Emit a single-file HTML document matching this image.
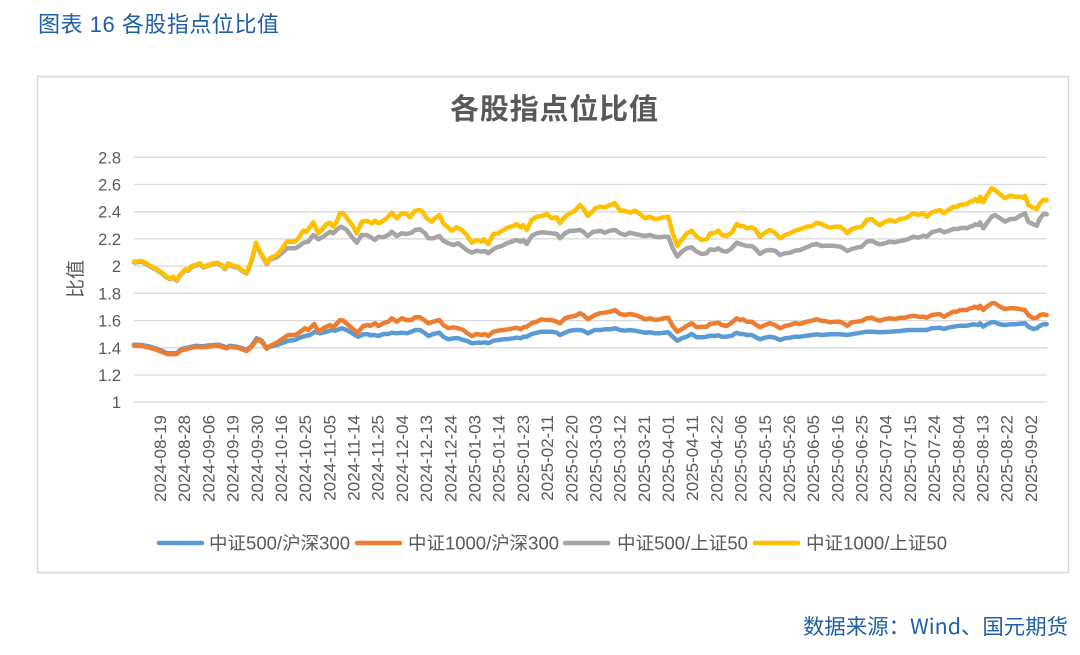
<!DOCTYPE html>
<html>
<head>
<meta charset="utf-8">
<style>
html,body{margin:0;padding:0;background:#fff;}
body{width:1080px;height:655px;overflow:hidden;}
svg{display:block;font-family:"Liberation Sans","Noto Sans CJK SC",sans-serif;}
</style>
</head>
<body>
<svg width="1080" height="655" viewBox="0 0 1080 655" xmlns="http://www.w3.org/2000/svg">
<rect x="0" y="0" width="1080" height="655" fill="#fff"/>
<text x="38" y="32" font-size="22" fill="#1f5fa6" textLength="241" lengthAdjust="spacing">图表 16 各股指点位比值</text>
<rect x="37.5" y="76.5" width="1031" height="496" fill="#fff" stroke="#d9d9d9" stroke-width="1.5"/>
<text x="450" y="119" font-size="29" font-weight="bold" fill="#595959" textLength="208" lengthAdjust="spacing">各股指点位比值</text>

<g stroke="#d9d9d9" stroke-width="1.3">
<line x1="134" y1="157.3" x2="1047" y2="157.3"/>
<line x1="134" y1="184.5" x2="1047" y2="184.5"/>
<line x1="134" y1="211.7" x2="1047" y2="211.7"/>
<line x1="134" y1="238.9" x2="1047" y2="238.9"/>
<line x1="134" y1="266.1" x2="1047" y2="266.1"/>
<line x1="134" y1="293.3" x2="1047" y2="293.3"/>
<line x1="134" y1="320.6" x2="1047" y2="320.6"/>
<line x1="134" y1="347.8" x2="1047" y2="347.8"/>
<line x1="134" y1="375.0" x2="1047" y2="375.0"/>
<line x1="134" y1="402.2" x2="1047" y2="402.2"/>
</g>

<g font-size="16.5" fill="#595959" text-anchor="end">
<text x="121" y="163.3">2.8</text>
<text x="121" y="190.5">2.6</text>
<text x="121" y="217.7">2.4</text>
<text x="121" y="244.9">2.2</text>
<text x="121" y="272.1">2</text>
<text x="121" y="299.3">1.8</text>
<text x="121" y="326.6">1.6</text>
<text x="121" y="353.8">1.4</text>
<text x="121" y="381.0">1.2</text>
<text x="121" y="408.2">1</text>
</g>
<text transform="translate(82,279) rotate(-90)" font-size="19" fill="#595959" text-anchor="middle">比值</text>

<g font-size="17" fill="#595959" text-anchor="end">
<text transform="translate(160.0,415) rotate(-90)" dy="0.35em">2024-08-19</text>
<text transform="translate(184.2,415) rotate(-90)" dy="0.35em">2024-08-28</text>
<text transform="translate(208.4,415) rotate(-90)" dy="0.35em">2024-09-06</text>
<text transform="translate(232.6,415) rotate(-90)" dy="0.35em">2024-09-19</text>
<text transform="translate(256.8,415) rotate(-90)" dy="0.35em">2024-09-30</text>
<text transform="translate(281.0,415) rotate(-90)" dy="0.35em">2024-10-16</text>
<text transform="translate(305.1,415) rotate(-90)" dy="0.35em">2024-10-25</text>
<text transform="translate(329.3,415) rotate(-90)" dy="0.35em">2024-11-05</text>
<text transform="translate(353.5,415) rotate(-90)" dy="0.35em">2024-11-14</text>
<text transform="translate(377.7,415) rotate(-90)" dy="0.35em">2024-11-25</text>
<text transform="translate(401.9,415) rotate(-90)" dy="0.35em">2024-12-04</text>
<text transform="translate(426.1,415) rotate(-90)" dy="0.35em">2024-12-13</text>
<text transform="translate(450.3,415) rotate(-90)" dy="0.35em">2024-12-24</text>
<text transform="translate(474.5,415) rotate(-90)" dy="0.35em">2025-01-03</text>
<text transform="translate(498.7,415) rotate(-90)" dy="0.35em">2025-01-14</text>
<text transform="translate(522.9,415) rotate(-90)" dy="0.35em">2025-01-23</text>
<text transform="translate(547.1,415) rotate(-90)" dy="0.35em">2025-02-11</text>
<text transform="translate(571.3,415) rotate(-90)" dy="0.35em">2025-02-20</text>
<text transform="translate(595.4,415) rotate(-90)" dy="0.35em">2025-03-03</text>
<text transform="translate(619.6,415) rotate(-90)" dy="0.35em">2025-03-12</text>
<text transform="translate(643.8,415) rotate(-90)" dy="0.35em">2025-03-21</text>
<text transform="translate(668.0,415) rotate(-90)" dy="0.35em">2025-04-01</text>
<text transform="translate(692.2,415) rotate(-90)" dy="0.35em">2025-04-11</text>
<text transform="translate(716.4,415) rotate(-90)" dy="0.35em">2025-04-22</text>
<text transform="translate(740.6,415) rotate(-90)" dy="0.35em">2025-05-06</text>
<text transform="translate(764.8,415) rotate(-90)" dy="0.35em">2025-05-15</text>
<text transform="translate(789.0,415) rotate(-90)" dy="0.35em">2025-05-26</text>
<text transform="translate(813.2,415) rotate(-90)" dy="0.35em">2025-06-05</text>
<text transform="translate(837.4,415) rotate(-90)" dy="0.35em">2025-06-16</text>
<text transform="translate(861.6,415) rotate(-90)" dy="0.35em">2025-06-25</text>
<text transform="translate(885.7,415) rotate(-90)" dy="0.35em">2025-07-04</text>
<text transform="translate(909.9,415) rotate(-90)" dy="0.35em">2025-07-15</text>
<text transform="translate(934.1,415) rotate(-90)" dy="0.35em">2025-07-24</text>
<text transform="translate(958.3,415) rotate(-90)" dy="0.35em">2025-08-04</text>
<text transform="translate(982.5,415) rotate(-90)" dy="0.35em">2025-08-13</text>
<text transform="translate(1006.7,415) rotate(-90)" dy="0.35em">2025-08-22</text>
<text transform="translate(1030.9,415) rotate(-90)" dy="0.35em">2025-09-02</text>
</g>

<g fill="none" stroke-width="4.5" stroke-linejoin="round" stroke-linecap="round">
<polyline stroke="#5b9bd5" points="134,344.7 141.7,345 148.3,346.3 155,348.3 161.7,350.7 166.7,353 173.3,353.3 176.7,353 181.7,349 186.7,348 191.7,346.7 196.7,345.7 201.7,346.3 206.7,345.7 213.3,345 218.3,344.7 223.3,346.3 226.7,347.3 230,345.7 236.7,346.7 241.7,348 246.7,350 251.7,345.7 256.7,338.3 261.7,340.7 266.7,347.7 270,346.7 276.7,345 283.3,342.7 288.3,340.7 295,340 298.3,338.3 305,336 310,335 315,331.7 320,333.3 326.7,331.7 331.7,330 335,330.7 341.7,328.3 345,329.3 350,331.7 355,335 358.3,336.7 363.3,334.3 368.3,334.3 370,335.3 375,335 378.3,336 383.3,334 388.3,334 391.7,332.7 396.7,333.3 401.7,332.7 406.7,333.3 411.7,331.7 415,330 420,330 425,333.3 428.3,336 433.3,334 439.3,332.7 443.3,336.7 448.3,339.3 453.3,338.3 458.3,338.3 463.3,340 466.7,340.7 471.7,343.3 476.7,342.7 481.7,342.7 485,342.3 488.3,343.3 493.3,340.7 498.3,340 503.3,339.3 508.3,339 513.3,338.3 516.7,337.7 520.7,338.3 523.3,336.7 526.7,336.7 531.7,334 536.7,332.7 541.7,331.7 546.7,331.7 551.7,331.7 556.7,332.7 560,335 565,332.7 570,330.7 575,330 580,330 583.3,330.7 587.7,333.3 593.3,330.7 595,330 600,330 605,329.3 610,329.3 615,328.3 620,330 625,330.7 630,330 635,330.7 640,331.7 645,332.7 650,332.3 655,333.3 660,333.3 663.3,332.7 668.3,332.3 672.7,336.7 677.3,340.7 681.7,338.3 686.7,336.7 691.7,334 696.7,337.3 701.7,337.3 706.7,336.7 710,335.7 715,336 718.3,335.3 721.7,336.7 726.7,336.7 731.7,335.7 736.7,332.7 740,334 743.3,334 746.7,335 751.7,335 755,336.7 760,339.3 765,337.7 770,336.7 775,337.7 780,340 785,338.3 790,337.7 795,336.7 800,336.7 806.7,335.7 811.7,335 816.7,334.3 821.7,335 830,334.3 840,334.3 847.3,335 856.7,333.3 866.7,331.7 871.7,331.7 880,332.3 890,331.7 900,331 908.3,330 918.3,330 926.7,330 931.7,328.3 940,327.7 944,329 948.3,327.7 953.3,326.7 960,325.7 966.7,325.7 973.3,324.3 978.3,325 980,323.3 983.3,326.7 986.7,324.3 991.7,322.3 995,322.3 1000,324.3 1005,325 1010,324.3 1015,324.3 1020,323.7 1025,323.3 1028.3,326.7 1033.3,329 1036.7,328.3 1040,325.7 1043.3,324.3 1046.7,324.3"/>
<polyline stroke="#ed7d31" points="134,345.7 141.7,346 148.3,347.3 155,349.3 161.7,351.7 166.7,354 173.3,354.3 176.7,354 181.7,350 186.7,349 191.7,347.7 196.7,346.7 201.7,347.3 206.7,346.7 213.3,346 218.3,345.7 223.3,347.3 226.7,348.3 230,346.7 236.7,347.7 241.7,349 246.7,351 251.7,346.7 256.7,339.3 261.7,341.7 266.7,348.7 270,346 276.7,342.7 283.3,338.3 288.3,335 295,335 298.3,333.3 305,328.3 308.3,330 314.3,324 318.3,331.7 323.3,328.3 330,325 333.3,327.3 340,320 343.3,320.7 348.3,325 353.3,329.3 357.7,332.7 363.3,326 368.3,325 370,326 375,323.3 378.3,326 383.3,323.3 388.3,321.7 391.7,318.3 396.7,321.7 401.7,318.3 406.7,320 411.7,320 415,317.3 420,317.3 425,320.7 428.3,323.3 433.3,321.7 439.3,320 443.3,325 448.3,328.3 453.3,327.3 458.3,328.3 463.3,330 466.7,332.7 471.7,336 476.7,334 481.7,335 485,334 488.3,336 493.3,331.7 498.3,330.7 503.3,330 508.3,329.3 513.3,328.3 516.7,327.7 520.7,329.3 523.3,327.3 526.7,326.7 531.7,323.3 536.7,321.7 541.7,319.3 546.7,320 551.7,320 556.7,321.7 560,323.3 565,318.3 570,316.7 575,316 580,313.3 583.3,315 587.7,319.3 593.3,316 595,315 600,313.3 605,312.7 610,311.7 615,310 620,314 625,315 630,314 635,315 640,316.7 645,319.3 650,318.3 655,320 660,319.3 663.3,318.3 668.3,317.7 672.7,326 677.3,331.7 681.7,329.3 686.7,326 691.7,323.3 696.7,327.3 701.7,326.7 706.7,326.7 710,324 715,323.3 718.3,322.7 721.7,325 726.7,326 731.7,322.7 736.7,318.3 740,320 743.3,319.3 746.7,321.7 751.7,321.7 755,324 760,327.3 765,325 770,323.3 775,325 780,328.3 785,326 790,325 795,323.3 800,324 806.7,321.7 811.7,320.7 816.7,319.3 821.7,320.7 825,321 830,322.3 835,321.7 840,321.7 843.3,323.3 847.3,325.7 851.7,322.3 856.7,321.7 861.7,321 866.7,318.3 871.7,317.7 876.7,320 880,320.7 885,319 890,318.3 895,319 900,317.7 905,317.7 908.3,316.7 913.3,315.7 918.3,316.7 923.3,316.7 926.7,317.7 931.7,315 936.7,314.3 940,314.3 944,316.7 948.3,314.3 953.3,311.7 956.7,311.7 960,310 963.3,310 966.7,310 970,308.3 973.3,307.7 975,306.7 978.3,308.3 980,305.7 983.3,310 986.7,306.7 991.7,303.3 995,303.3 1000,306.7 1005,309 1010,308.3 1015,308.3 1020,309 1023.3,310 1025,310 1028.3,315 1033.3,318.3 1036.7,317.7 1040,315 1043.3,314.3 1046.7,315"/>
<polyline stroke="#a5a5a5" points="134,262.5 141.7,261.8 146.7,264.1 151.7,267.5 156.7,269.8 161.7,273.5 166.7,277.5 170,279.1 173.3,277.5 176.7,280.8 180,275.8 185,270.1 188.3,270.8 191.7,266.8 195,265.8 200,264.1 203.3,267.5 208.3,265.8 213.3,264.1 217.3,263.5 221.7,265.8 225,269.1 228.3,264.1 233.3,266.8 238.3,267.5 241.7,270.8 246.7,273.5 251.7,260.8 256,243.5 260,252.5 266.7,264.1 270,259.3 276.7,257.3 281.7,253.3 286.7,248.3 295,248.3 298.3,246.7 303.3,242.7 308.3,241.7 313.3,235 318.3,239.3 323.3,236.7 330,231.7 333.3,233.3 338.3,228.3 341.7,226.7 346.7,230 351.7,236.7 356.7,242.7 361.7,235 366.7,235 370,236.7 375,240 378.3,236.7 383.3,237.3 388.3,235 391.7,231.7 396.7,236 401.7,233.3 406.7,234 411.7,232.7 415,230 420,229.3 425,233.3 428.3,238.3 433.3,238.3 439.3,236 443.3,240.7 448.3,243.3 453.3,245 458.3,243.3 463.3,247.3 466.7,250 471.7,252.7 476.7,250.7 481.7,251.7 485,251 488.3,253.3 493.3,249.3 496.7,247.3 501.7,246 506.7,243.3 511.7,241.7 516.7,240 520.7,241.7 523.3,240 526.7,244 531.7,236 536.7,233.3 541.7,232.3 546.7,232.7 551.7,233.3 556.7,234 560,238.3 565,233.3 570,230.7 575,230.7 580,230 583.3,231.7 587.7,236 593.3,231.7 595,231.7 600,230.7 605,232.7 610,230.7 615,230 620,233.3 625,235 630,232.7 635,234 640,235 645,236 650,235 655,236.7 660,237.3 663.3,236.7 668.3,236.7 672.7,248.3 677.3,256.7 681.7,251.7 686.7,248.3 691.7,247.3 696.7,251.7 701.7,254 706.7,253.3 710,249.3 715,250 718.3,248.3 721.7,250.7 726.7,251.7 731.7,248.3 736.7,242.7 740,244 743.3,245 746.7,246 751.7,246 755,248.3 760,254 765,250.7 770,250 775,250.7 780,255 785,253.3 790,252.7 795,250.7 800,250 806.7,247.3 811.7,245 816.7,244 821.7,246 825,245.7 830,245.7 835,246 840,246.7 843.3,248.3 847.3,251 851.7,249 856.7,247.7 861.7,246.7 866.7,241.7 871.7,241 876.7,243.3 880,244.3 885,243.3 890,241.7 895,242.3 900,241 905,240 908.3,239 913.3,236.7 918.3,237.7 923.3,235.7 926.7,236.7 931.7,232.3 936.7,231 940,230 944,232.3 948.3,231 953.3,229 956.7,229 960,228.3 963.3,227.7 966.7,228.3 970,226.7 973.3,225.7 975,224.3 978.3,225 980,222.3 983.3,228.3 986.7,223.3 991.7,216.7 995,215 1000,218.3 1005,221.7 1010,219 1015,219 1020,215.7 1023.3,214.3 1025,213.3 1028.3,221.7 1033.3,224.3 1036.7,225.7 1040,218.3 1043.3,214.3 1046.7,214.3"/>
<polyline stroke="#ffc000" points="134,261.7 141.7,261 146.7,263.3 151.7,266.7 156.7,269 161.7,272.7 166.7,276.7 170,278.3 173.3,276.7 176.7,280 180,275 185,269.3 188.3,270 191.7,266 195,265 200,263.3 203.3,266.7 208.3,265 213.3,263.3 217.3,262.7 221.7,265 225,268.3 228.3,263.3 233.3,266 238.3,266.7 241.7,270 246.7,272.7 251.7,260 256,242.7 260,251.7 266.7,263.3 270,258.3 276.7,255 281.7,249.3 286.7,241.7 295,241.7 298.3,238.3 303.3,230.7 306.7,231.7 313.3,222.3 318.3,233.3 321.7,230 326.7,224 330,222.7 333.3,226.7 336.7,221.7 340,213.3 343.3,213.3 348.3,220 353.3,226.7 356.7,233.3 361.7,221.7 366.7,220.7 371.7,223.3 375,220.7 378.3,223.3 381.7,221.7 386.7,218.3 391.7,212.7 396.7,218.3 401.7,213.3 406.7,214 410,217.3 415,210.7 420,210 423.3,212.7 426.7,218.3 431.7,221.7 435,218.3 439.3,215 443.3,223.3 447.3,226.7 451.7,230.7 456.7,227.3 461.7,230 466.7,235 471.7,242.7 476.7,240 481.7,241.7 484,239.3 488.3,244 493.3,234 498.3,233.3 503.3,230 508.3,227.3 513.3,226 516.7,224 520.7,227.3 523.3,225 526.7,230 531.7,220 536.7,216.7 541.7,216 546.7,214 551.7,218.3 556.7,217.3 560,223.3 565,216.7 570,213.3 575,210.7 580,205 583.3,208.3 587.7,216 593.3,210.7 595,208.3 600,206.7 605,207.3 610,205 615,203.3 620,210.7 625,210.7 630,212.7 635,210.7 640,214 645,218.3 650,216.7 655,219.3 660,218.3 663.3,217.3 668.3,216.7 672.7,233.3 677.3,246 681.7,240 686.7,233.3 691.7,230.7 696.7,236.7 701.7,240 706.7,239.3 710,233.3 715,232.7 718.3,230.7 721.7,235 726.7,236 731.7,232.7 736.7,224 740,226 743.3,226 746.7,228.3 751.7,227.3 755,229.3 760,236.7 765,232.7 770,230 775,232.7 780,238.3 785,235 790,233.3 795,230.7 800,229.3 806.7,226.7 811.7,226 816.7,222.7 821.7,224 825,225.7 830,227.7 835,226.7 840,226.7 843.3,229 847.3,233.3 851.7,229 856.7,227.7 861.7,226.7 866.7,220 871.7,219 876.7,223.3 880,225 885,221.7 890,220 895,221.7 900,219 905,218.3 908.3,216.7 913.3,213.3 918.3,215 923.3,213.3 926.7,216.7 931.7,212.3 936.7,211 940,210 944,213.3 948.3,210 953.3,206.7 956.7,206.7 960,205 963.3,204.3 966.7,204.3 970,201.7 973.3,201 975,199 978.3,201.7 980,196.7 983.3,202.3 986.7,195.7 991.7,188.3 995,190 1000,194.3 1005,198.3 1010,195.7 1015,196.7 1020,196.7 1023.3,197.7 1025,195.7 1028.3,205 1033.3,207.7 1036.7,209 1040,203.3 1043.3,200 1046.7,200"/>
</g>

<g stroke-width="4.5" stroke-linecap="round">
<line x1="159" y1="543" x2="202" y2="543" stroke="#5b9bd5"/>
<line x1="357" y1="543" x2="400" y2="543" stroke="#ed7d31"/>
<line x1="565" y1="543" x2="608" y2="543" stroke="#a5a5a5"/>
<line x1="755" y1="543" x2="798" y2="543" stroke="#ffc000"/>
</g>
<g font-size="18" fill="#595959">
<text x="209" y="549.5" textLength="141" lengthAdjust="spacingAndGlyphs">中证500/沪深300</text>
<text x="408" y="549.5" textLength="151" lengthAdjust="spacingAndGlyphs">中证1000/沪深300</text>
<text x="617" y="549.5" textLength="131" lengthAdjust="spacingAndGlyphs">中证500/上证50</text>
<text x="806" y="549.5" textLength="141" lengthAdjust="spacingAndGlyphs">中证1000/上证50</text>
</g>

<text x="803" y="634" font-size="21" fill="#1f5fa6" textLength="265" lengthAdjust="spacingAndGlyphs" font-family="Noto Sans CJK SC, Liberation Sans, sans-serif">数据来源：Wind、国元期货</text>
</svg>
</body>
</html>
